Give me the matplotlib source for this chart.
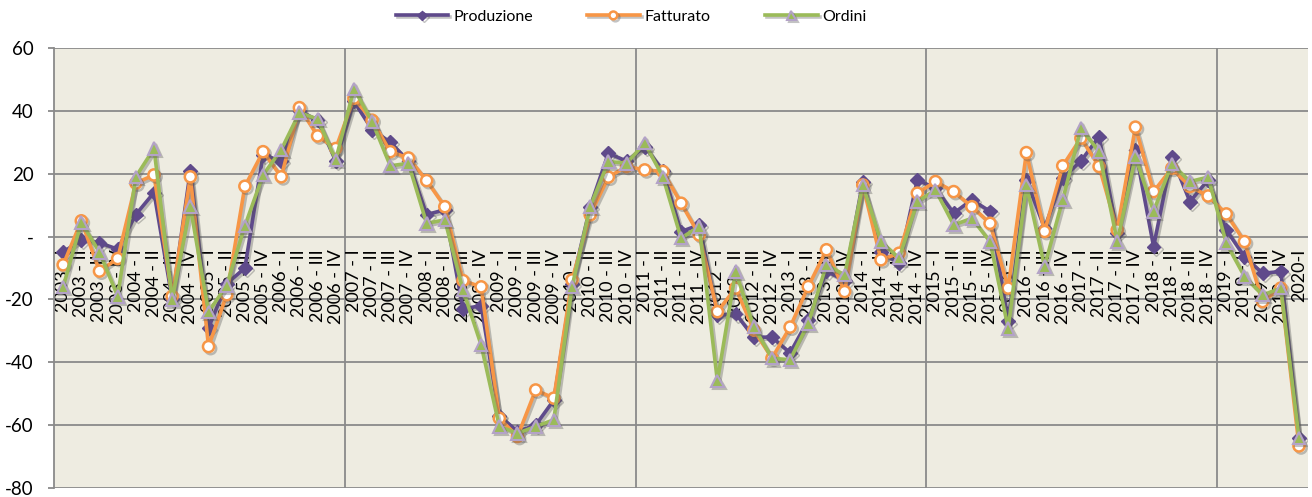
import numpy as np
import matplotlib
matplotlib.use("Agg")
import matplotlib.pyplot as plt
import matplotlib.patheffects as pe

plt.rcParams['font.family'] = ['Lato', 'DejaVu Sans']

# quarters 2003-I .. 2020-I
years = list(range(2003, 2020))
quarters = ['I', 'II', 'III', 'IV']
labels = [f"{y} - {q}" for y in years for q in quarters] + ["2020-I"]

produzione = [-5, -1, -2, -4, 7, 14, -20, 21, -29, -15, -10, 26,
              24, 40, 37, 24, 43, 34, 30, 24, 7, 8.5, -23, -22,
              -57, -62, -60, -52, -15, 9.5, 26.5, 24, 28.6, 21, 1.6, 3.7,
              -25, -24.5, -32, -32, -37, -26.5, -11, -14, 17.5, -5, -8.5, 18,
              15.4, 7.4, 11.7, 8, -27, 18, 2.7, 18.6, 24, 31.8, 1, 27.6,
              -3.2, 25.4, 11.1, 18, 2.1, -6.4, -11.7, -11.1, -64]
fatturato = [-9, 5, -11, -7, 17, 19.6, -19, 19, -35, -18.5, 16, 27,
             19, 41, 32, 28, 44, 37, 27, 25, 17.8, 9.5, -14, -16,
             -57.8, -63.6, -48.8, -51.4, -13.8, 6.9, 18.9, 22.3, 21.2, 20.7, 10.6, 0.5,
             -23.9, -16.4, -29.7, -38.7, -28.8, -15.9, -4.2, -17.5, 16.4, -7.4, -5.3, 13.8,
             17.5, 14.3, 9.5, 4.2, -16.4, 26.7, 1.6, 22.5, 31.3, 22.3, 2.1, 34.8,
             14.3, 21.7, 15.9, 12.9, 7.2, -1.6, -20.7, -16.4, -66.6]
ordini = [-16, 4.5, -5, -19, 19, 28, -20, 9.5, -24, -15.5, 3.4, 19.6,
          27.6, 39.4, 37.4, 24.4, 47, 36.6, 22.5, 23.3, 4.2, 5.3, -17, -34.5,
          -60.4, -62.6, -60.4, -58.3, -16, 9.5, 23.9, 23.3, 29.7, 19, -0.5, 3.2,
          -46, -11.1, -28.6, -38.7, -39.2, -27.6, -9, -12.2, 16.4, -1.6, -6.9, 11.1,
          14.8, 3.7, 5.8, -1.6, -29.2, 16.4, -9.5, 11.7, 34.5, 27, -1.6, 25.4,
          8, 23.1, 17.5, 18.9, -2.1, -12.7, -18.6, -16.4, -64]

x = np.arange(len(labels))

fig = plt.figure(figsize=(13.12, 4.97), dpi=100)
ax = fig.add_axes([0.0412, 0.018, 0.9558, 0.8856])
ax.set_facecolor('#EEECE1')

grid_col = '#8A8A8A'
ax.set_xlim(-0.5, len(labels) - 0.5)
ax.set_ylim(-80, 60)
ax.set_yticks([-80, -60, -40, -20, 0, 20, 40, 60])
ax.set_yticklabels(['-80', '-60', '-40', '-20', '-', '20', '40', '60'])
ax.yaxis.grid(True, color=grid_col, linewidth=1.3)
for b in [15.5, 31.5, 47.5, 63.5]:
    ax.axvline(b, color=grid_col, linewidth=1.3, zorder=0.5)
ax.set_axisbelow(True)
ax.set_xticks([])
for s in ['top', 'right', 'bottom']:
    ax.spines[s].set_visible(False)
ax.spines['left'].set_color(grid_col)
ax.spines['left'].set_linewidth(1.3)
ax.tick_params(axis='y', direction='out', length=4.5, width=1.3, color=grid_col,
               pad=10, labelsize=13.5)

# category labels hanging under the zero line
for i, lab in enumerate(labels):
    ax.annotate(lab, xy=(x[i], 0), xytext=(0, -9), textcoords='offset points',
                rotation=90, ha='center', va='top', fontsize=13, zorder=1)

shadow = [pe.SimpleLineShadow(offset=(1.5, -1.5), shadow_color='#555555', alpha=0.35),
          pe.Normal()]

ax.plot(x, produzione, color='#5F4A8B', lw=2.6, marker='D', markersize=7,
        markerfacecolor='#5F4A8B', markeredgecolor='#5F4A8B', label='Produzione',
        zorder=3, path_effects=shadow)
ax.plot(x, fatturato, color='#F79646', lw=2.6, marker='o', markersize=8,
        markerfacecolor='white', markeredgecolor='#F79646', markeredgewidth=1.8,
        label='Fatturato', zorder=4, path_effects=shadow)
ax.plot(x, ordini, color='#9BBB59', lw=2.6, marker='^', markersize=9,
        markerfacecolor='#9BBB59', markeredgecolor='#B3A2C7', markeredgewidth=1.5,
        label='Ordini', zorder=5, path_effects=shadow)

handles, labs = ax.get_legend_handles_labels()
leg = fig.legend(handles, labs, loc='center', bbox_to_anchor=(0.481, 0.966),
                 ncol=3, frameon=False, fontsize=11.5, handlelength=3.3,
                 handletextpad=0.3, columnspacing=3.4, markerscale=0.7)

fig.savefig('out.png', dpi=100)
